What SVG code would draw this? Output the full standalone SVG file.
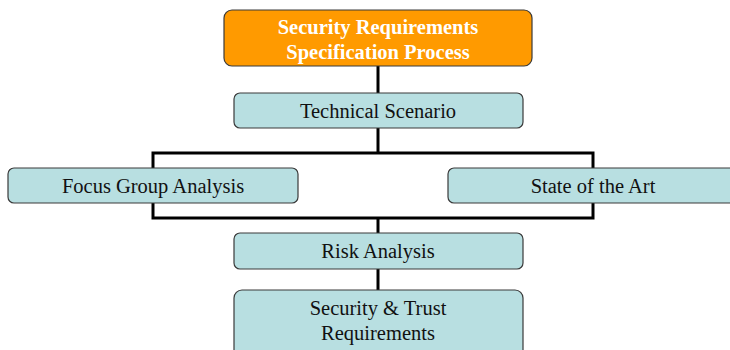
<svg xmlns="http://www.w3.org/2000/svg" width="730" height="350" viewBox="0 0 730 350">
  <style>
    .box { fill: #b8dfe1; stroke: #3a3a3a; stroke-width: 1.2; }
    .head { fill: #ff9a00; stroke: #3a3a3a; stroke-width: 1.2; }
    .lbl { font-family: "Liberation Serif", "Times New Roman", serif; font-size: 20.5px; fill: #111; text-anchor: middle; }
    .hlbl { font-family: "Liberation Serif", "Times New Roman", serif; font-size: 20.5px; font-weight: bold; fill: #ffffff; text-anchor: middle; }
    .wire { fill: none; stroke: #000; stroke-width: 3; }
  </style>
  <rect width="730" height="350" fill="#ffffff"/>

  <!-- connectors -->
  <g id="connectors">
    <line class="wire" x1="378" y1="66" x2="378" y2="93"/>
    <line class="wire" x1="378" y1="128" x2="378" y2="153"/>
    <rect class="wire" x="153" y="153" width="440" height="65"/>
    <line class="wire" x1="378" y1="218" x2="378" y2="233"/>
    <line class="wire" x1="378" y1="269" x2="378" y2="290"/>
  </g>

  <g id="srs-process">
    <rect class="head" x="224" y="10" width="308" height="56" rx="8"/>
    <text class="hlbl" x="378" y="34">Security Requirements</text>
    <text class="hlbl" x="378" y="59">Specification Process</text>
  </g>

  <g id="technical-scenario">
    <rect class="box" x="234" y="93" width="289" height="35" rx="6"/>
    <text class="lbl" x="378" y="118">Technical Scenario</text>
  </g>

  <g id="focus-group">
    <rect class="box" x="8" y="168" width="290" height="35" rx="6"/>
    <text class="lbl" x="153" y="193">Focus Group Analysis</text>
  </g>

  <g id="state-of-art">
    <rect class="box" x="448" y="168" width="292" height="35" rx="6"/>
    <text class="lbl" x="593" y="193">State of the Art</text>
  </g>

  <g id="risk-analysis">
    <rect class="box" x="234" y="233" width="289" height="36" rx="6"/>
    <text class="lbl" x="378" y="258">Risk Analysis</text>
  </g>

  <g id="security-trust">
    <rect class="box" x="234" y="290" width="289" height="70" rx="8"/>
    <text class="lbl" x="378" y="315">Security &amp; Trust</text>
    <text class="lbl" x="378" y="340">Requirements</text>
  </g>
</svg>
